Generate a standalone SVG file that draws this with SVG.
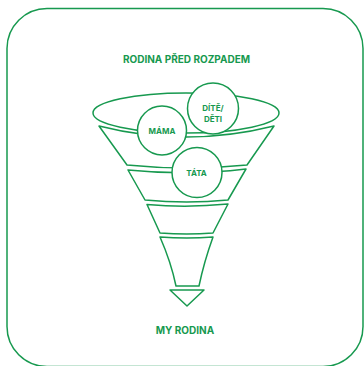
<svg xmlns="http://www.w3.org/2000/svg" width="364" height="366" viewBox="0 0 364 366">
<style>
.ln{fill:none;stroke:#17994f;stroke-width:1.5;stroke-linejoin:round;stroke-linecap:round}
.nd{fill:#ffffff;stroke:#17994f;stroke-width:1.5}
.t{font-family:Inter,"Liberation Sans",sans-serif;font-weight:700;fill:#17994f;text-anchor:middle}
</style>
<rect x="0" y="0" width="364" height="366" fill="#ffffff"/>
<rect x="7" y="8.5" width="356" height="358" rx="40" ry="40" class="ln"/>
<text class="t" x="186.5" y="63" font-size="10">RODINA PŘED ROZPADEM</text>
<text class="t" x="185" y="334" font-size="10">MY RODINA</text>
<g id="funnel">
<ellipse cx="186" cy="113" rx="93" ry="20" class="ln"/>
<path class="ln" d="M99,126 Q186,148 274,126 L247,165 Q187,171 127,165 Z"/>
<path class="ln" d="M128,170 Q187,176 246,169 L228,200 Q187,204 145,200 Z"/>
<path class="ln" d="M147,204.5 Q187,208 228,204 L213,233 Q187,235 160,233 Z"/>
<path class="ln" d="M160,237 Q187,239 213,237 Q204,262 199,286 L176,286 Q171,262 160,237 Z"/>
<path class="ln" d="M170,290 L204,290 L187,306 Z"/>
</g>
<g id="mama">
<circle cx="162" cy="130.5" r="24.5" class="nd"/>
<text class="t" x="162" y="133.5" font-size="8">MÁMA</text>
</g>
<g id="dite">
<circle cx="213" cy="108.5" r="25.5" class="nd"/>
<text class="t" x="213" y="110.5" font-size="8">DÍTĚ/</text>
<text class="t" x="213" y="122" font-size="8">DĚTI</text>
</g>
<g id="tata">
<circle cx="197" cy="172.5" r="25" class="nd"/>
<text class="t" x="196.5" y="176" font-size="8">TÁTA</text>
</g>
</svg>
